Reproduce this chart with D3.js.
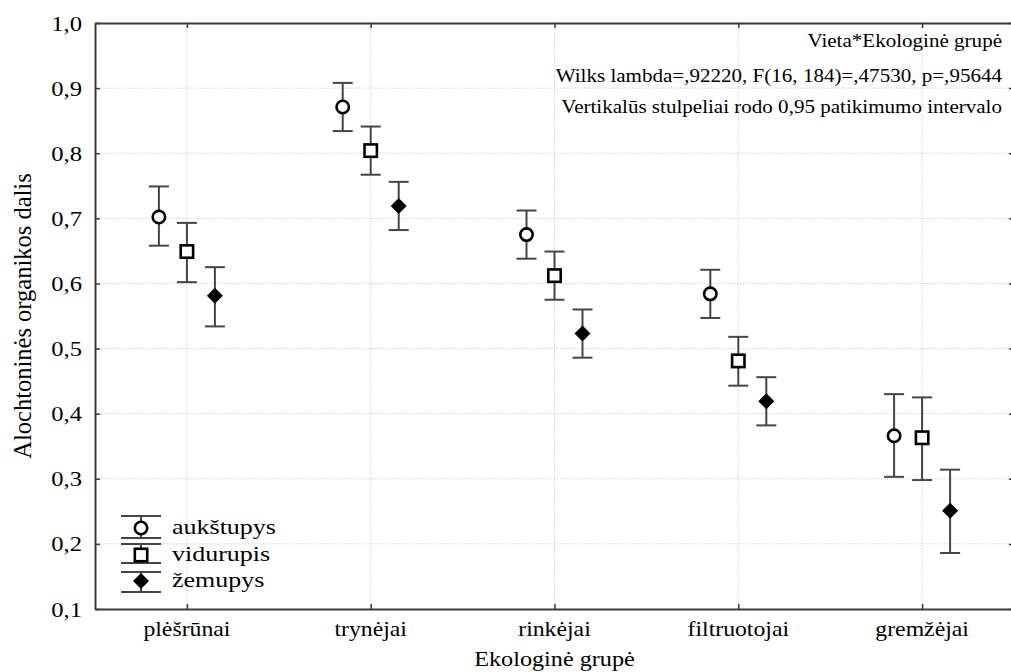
<!DOCTYPE html>
<html>
<head>
<meta charset="utf-8">
<script src="https://cdn.jsdelivr.net/npm/d3@7"></script>
<style>
  html, body { margin: 0; padding: 0; background: #fff; }
  svg { display: block; }
</style>
</head>
<body>
<svg id="chart" width="1011" height="672"></svg>
<script>
// Ecological groups on the x axis
const categories = ["plėšrūnai", "trynėjai", "rinkėjai", "filtruotojai", "gremžėjai"];
const seriesNames = ["aukštupys", "vidurupis", "žemupys"];

// Means and 0.95 confidence limits per river section
const meanAukstupys = [0.702, 0.871, 0.675, 0.584, 0.366];
const lowAukstupys  = [0.658, 0.834, 0.638, 0.547, 0.303];
const highAukstupys = [0.749, 0.908, 0.712, 0.621, 0.430];

const meanVidurupis = [0.649, 0.804, 0.612, 0.481, 0.363];
const lowVidurupis  = [0.602, 0.767, 0.575, 0.443, 0.298];
const highVidurupis = [0.693, 0.841, 0.649, 0.518, 0.425];

const meanZemupys = [0.581, 0.719, 0.523, 0.419, 0.251];
const lowZemupys  = [0.534, 0.682, 0.486, 0.382, 0.186];
const highZemupys = [0.625, 0.756, 0.560, 0.456, 0.314];

const yTicks = [0.1, 0.2, 0.3, 0.4, 0.5, 0.6, 0.7, 0.8, 0.9, 1.0];

const annotations = [
  "Vieta*Ekologinė grupė",
  "Wilks lambda=,92220, F(16, 184)=,47530, p=,95644",
  "Vertikalūs stulpeliai rodo 0,95 patikimumo intervalo"
];
const xTitle = "Ekologinė grupė";
const yTitle = "Alochtoninės organikos dalis";

const series = [
  { name: seriesNames[0], mean: meanAukstupys, low: lowAukstupys, high: highAukstupys, shape: "circle" },
  { name: seriesNames[1], mean: meanVidurupis, low: lowVidurupis, high: highVidurupis, shape: "square" },
  { name: seriesNames[2], mean: meanZemupys,   low: lowZemupys,   high: highZemupys,   shape: "diamond" }
];

const serif = "Liberation Serif, Times New Roman, serif";
const svg = d3.select("#chart").attr("font-family", serif);
const plotLeft = 95, plotRight = 1014, plotTop = 23, plotBottom = 609;

const x = d3.scalePoint().domain(categories).range([plotLeft, plotRight]).padding(0.5);
const y = d3.scaleLinear().domain([0.1, 1.0]).range([plotBottom, plotTop]);
const offsets = d3.scalePoint().domain(seriesNames).range([-28, 28]);
const fmt = d => d3.format(".1f")(d).replace(".", ",");

const gridColor = "#cfcfcf";
const axisColor = "#3a3a3a";
const barColor = "#454545";
const textColor = "#000";

// text placed at (tx, ty), optionally widened horizontally
function label(parent, tx, ty, str, size, anchor, sx) {
  return parent.append("text")
    .attr("transform", `translate(${tx},${ty}) scale(${sx || 1},1)`)
    .attr("text-anchor", anchor).attr("font-size", size)
    .attr("font-family", serif).attr("fill", textColor)
    .text(str);
}

// grid lines
const grid = svg.append("g");
grid.selectAll("line.h").data(yTicks.slice(1, -1)).join("line")
  .attr("class", "h")
  .attr("x1", plotLeft).attr("x2", plotRight)
  .attr("y1", d => y(d)).attr("y2", d => y(d))
  .attr("stroke", gridColor).attr("stroke-width", 1).attr("stroke-dasharray", "1.5,1.5");
grid.selectAll("line.v").data(categories).join("line")
  .attr("class", "v")
  .attr("x1", d => x(d)).attr("x2", d => x(d))
  .attr("y1", plotTop).attr("y2", plotBottom)
  .attr("stroke", gridColor).attr("stroke-width", 1).attr("stroke-dasharray", "1.5,1.5");

// axes with inward ticks
const axL = svg.append("g").attr("transform", `translate(${plotLeft},0)`)
  .call(d3.axisRight(y).tickValues(yTicks).tickSize(5).tickSizeOuter(0).tickFormat(""));
const axR = svg.append("g").attr("transform", `translate(${plotRight},0)`)
  .call(d3.axisLeft(y).tickValues(yTicks).tickSize(5).tickSizeOuter(0).tickFormat(""));
const axB = svg.append("g").attr("transform", `translate(0,${plotBottom})`)
  .call(d3.axisTop(x).tickSize(5).tickSizeOuter(0).tickFormat(""));
const axT = svg.append("g").attr("transform", `translate(0,${plotTop})`)
  .call(d3.axisBottom(x).tickSize(5).tickSizeOuter(0).tickFormat(""));
[axL, axR, axB, axT].forEach(g => {
  g.select(".domain").attr("stroke", axisColor).attr("stroke-width", 2);
  g.selectAll(".tick line").attr("stroke", axisColor).attr("stroke-width", 1.5);
});

// tick labels
const yLab = svg.append("g");
yTicks.forEach(v => label(yLab, 82, y(v) + 7.5, fmt(v), 22, "end", 1.12));
const xLab = svg.append("g");
categories.forEach(c => label(xLab, x(c), 636, c, 22, "middle", 1.08));

// axis titles
label(svg, x(categories[2]), 666, xTitle, 22, "middle", 1.1);
svg.append("text").attr("transform", `translate(31,${(plotTop + plotBottom) / 2}) rotate(-90)`)
  .attr("text-anchor", "middle").attr("font-size", 24.5).attr("fill", textColor)
  .attr("font-family", serif).text(yTitle);

// annotation block
const ann = svg.append("g");
annotations.forEach((t, i) => label(ann, 1002, [47, 82, 113][i], t, 19.5, "end", 1.08));

function drawMarker(g, shape, cx, cy) {
  if (shape === "circle") {
    g.append("circle").attr("cx", cx).attr("cy", cy).attr("r", 6.2)
      .attr("fill", "#fff").attr("stroke", "#000").attr("stroke-width", 2.6);
  } else if (shape === "square") {
    g.append("rect").attr("x", cx - 6.2).attr("y", cy - 6.2).attr("width", 12.4).attr("height", 12.4)
      .attr("fill", "#fff").attr("stroke", "#000").attr("stroke-width", 2.6);
  } else {
    const r = 8;
    g.append("path").attr("d", `M${cx},${cy - r}L${cx + r},${cy}L${cx},${cy + r}L${cx - r},${cy}Z`)
      .attr("fill", "#000");
  }
}

// error bars with markers
const cap = 10;
series.forEach(s => {
  const g = svg.append("g");
  categories.forEach((c, i) => {
    const cx = x(c) + offsets(s.name);
    g.append("line").attr("x1", cx).attr("x2", cx)
      .attr("y1", y(s.high[i])).attr("y2", y(s.low[i]))
      .attr("stroke", barColor).attr("stroke-width", 2);
    [s.high[i], s.low[i]].forEach(v => {
      g.append("line").attr("x1", cx - cap).attr("x2", cx + cap)
        .attr("y1", y(v)).attr("y2", y(v))
        .attr("stroke", barColor).attr("stroke-width", 2);
    });
    drawMarker(g, s.shape, cx, y(s.mean[i]));
  });
});

// legend
const legend = svg.append("g");
const legendRows = [
  { capTop: 516, mid: 528, capBottom: 538 },
  { capTop: 544, mid: 555, capBottom: 563 },
  { capTop: 572, mid: 581, capBottom: 592 }
];
series.forEach((s, i) => {
  const r = legendRows[i], lx = 141;
  legend.append("line").attr("x1", lx).attr("x2", lx).attr("y1", r.capTop).attr("y2", r.capBottom)
    .attr("stroke", barColor).attr("stroke-width", 2);
  [r.capTop, r.capBottom].forEach(yy => legend.append("line")
    .attr("x1", lx - 20).attr("x2", lx + 20).attr("y1", yy).attr("y2", yy)
    .attr("stroke", barColor).attr("stroke-width", 2));
  drawMarker(legend, s.shape, lx, r.mid);
  label(legend, 172, r.mid + 6, s.name, 20, "start", 1.3);
});
</script>
</body>
</html>
